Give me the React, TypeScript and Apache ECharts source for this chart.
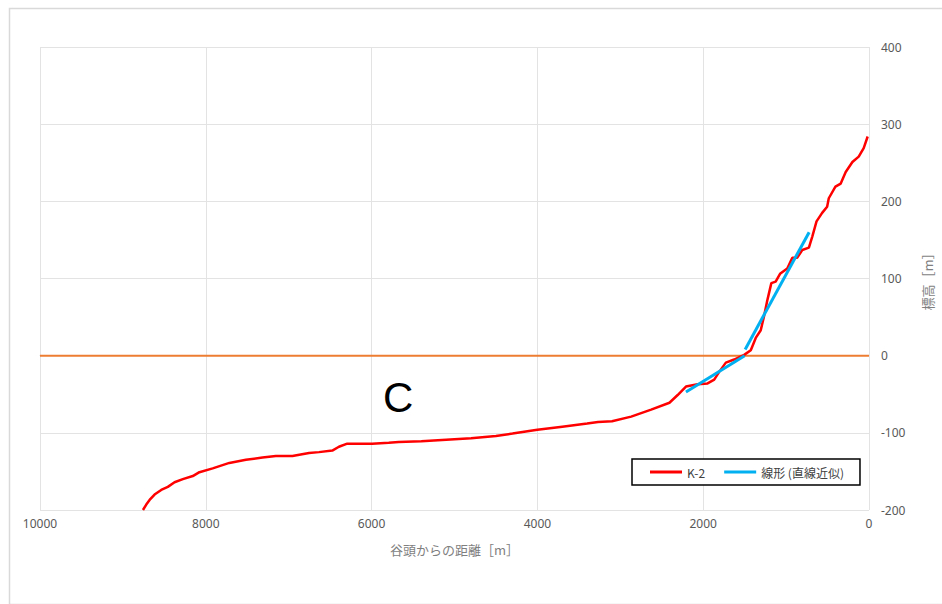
import React, { useEffect, useRef } from "react";
import * as echarts from "echarts";

const xTicks = [0, 2000, 4000, 6000, 8000, 10000];
const yTicks = [-200, -100, 0, 100, 200, 300, 400];

const kDist = [
  8758, 8718, 8678, 8618, 8538, 8458, 8377, 8277, 8157, 8077, 7917, 7716, 7516, 7316, 7155, 6955,
  6755, 6635, 6474, 6394, 6294, 6154, 5994, 5793, 5673, 5400, 5100, 4800, 4500, 4300, 4000, 3700,
  3400, 3269, 3100, 2869, 2628, 2407, 2308, 2208, 2067, 1947, 1867, 1807, 1727, 1627, 1506, 1426,
  1366, 1306, 1266, 1226, 1178, 1126, 1073, 986, 925, 865, 805, 725, 685, 633, 565, 505, 485, 405,
  341, 281, 200, 124, 64, 16,
];
const kElev = [
  -200, -193, -187, -180, -174, -170, -164, -160, -156, -151, -146, -139, -135, -132, -130, -130,
  -126, -125, -123, -118, -114, -114, -114, -113, -112, -111, -109, -107, -104, -101, -96, -92,
  -88, -86, -85, -79, -70, -61, -51, -40, -37, -36, -31, -21, -9, -5, 1, 7,
  23, 33, 51, 72, 94, 96, 106, 113, 127, 127, 137, 140, 154, 174, 185, 193, 204, 219,
  223, 238, 251, 258, 269, 284,
];

const trend1Dist = [2208, 1500];
const trend1Elev = [-47, 0];
const trend2Dist = [1494, 722];
const trend2Elev = [8, 160];

const baseDist = [0, 10000];
const baseElev = [0, 0];

const zip = (a: number[], b: number[]) => a.map((v, i) => [v, b[i]]);

export default function App() {
  const ref = useRef<HTMLDivElement>(null);
  useEffect(() => {
    if (!ref.current) return;
    const chart = echarts.init(ref.current, null, { renderer: "svg" });
    const numFont = "'Noto Sans', 'DejaVu Sans', sans-serif";
    const jpFont = "'Noto Sans CJK JP', sans-serif";
    chart.setOption({
      animation: false,
      backgroundColor: "#ffffff",
      grid: { left: 40, right: 66, top: 47, bottom: 94 },
      legend: {
        data: ["K-2", "線形 (直線近似)"],
        left: 632,
        top: 459,
        padding: [7, 16, 7, 18],
        itemGap: 19,
        itemWidth: 32,
        itemHeight: 3,
        icon: "rect",
        borderColor: "#000000",
        borderWidth: 1.5,
        backgroundColor: "#ffffff",
        textStyle: { color: "#404040", fontSize: 12, fontFamily: jpFont },
      },
      xAxis: {
        type: "value",
        inverse: true,
        min: xTicks[0],
        max: xTicks[xTicks.length - 1],
        interval: 2000,
        name: "谷頭からの距離［m］",
        nameLocation: "middle",
        nameGap: 33,
        nameTextStyle: { color: "#7f7f7f", fontSize: 13, fontFamily: jpFont },
        axisLine: { show: true, lineStyle: { color: "#d9d9d9", width: 1 } },
        axisTick: { show: false },
        axisLabel: {
          color: "#595959",
          fontSize: 12,
          margin: 7,
          fontFamily: numFont,
          formatter: (v: number) => String(v),
        },
        splitLine: { show: true, lineStyle: { color: "#e3e3e3", width: 1 } },
      },
      yAxis: {
        type: "value",
        position: "right",
        min: yTicks[0],
        max: yTicks[yTicks.length - 1],
        interval: 100,
        name: "標高［m］",
        nameLocation: "middle",
        nameGap: 52,
        nameRotate: 90,
        nameTextStyle: { color: "#7f7f7f", fontSize: 13, fontFamily: jpFont },
        axisLine: { show: false },
        axisTick: { show: false },
        axisLabel: {
          color: "#595959",
          fontSize: 12,
          margin: 12,
          fontFamily: numFont,
          formatter: (v: number) => String(v),
        },
        splitLine: { show: true, lineStyle: { color: "#e3e3e3", width: 1 } },
      },
      graphic: [
        {
          type: "rect",
          left: 7,
          top: 6,
          shape: { width: 940, height: 596 },
          style: { fill: "none", stroke: "#d9d9d9", lineWidth: 1.5 },
          silent: true,
          z: -10,
        },
        {
          type: "text",
          left: 383,
          top: 376,
          style: { text: "C", fontSize: 42, fill: "#000000", fontFamily: "'Liberation Sans', Arial, sans-serif" },
          z: 100,
        },
      ],
      series: [
        {
          name: "base",
          type: "line",
          data: zip(baseDist, baseElev),
          showSymbol: false,
          lineStyle: { color: "#ED7D31", width: 2 },
          itemStyle: { color: "#ED7D31" },
          z: 1,
        },
        {
          name: "K-2",
          type: "line",
          data: zip(kDist, kElev),
          showSymbol: false,
          clip: true,
          lineStyle: { color: "#FF0000", width: 2.5 },
          itemStyle: { color: "#FF0000" },
          z: 2,
        },
        {
          name: "線形 (直線近似)",
          type: "line",
          data: zip(trend1Dist, trend1Elev),
          showSymbol: false,
          lineStyle: { color: "#00B0F0", width: 3 },
          itemStyle: { color: "#00B0F0" },
          z: 3,
        },
        {
          name: "線形 (直線近似)",
          type: "line",
          data: zip(trend2Dist, trend2Elev),
          showSymbol: false,
          lineStyle: { color: "#00B0F0", width: 3 },
          itemStyle: { color: "#00B0F0" },
          z: 3,
        },
      ],
    });
    return () => chart.dispose();
  }, []);
  return (
    <div
      ref={ref}
      style={{ position: "absolute", left: 0, top: 0, width: 942, height: 604 }}
    />
  );
}
